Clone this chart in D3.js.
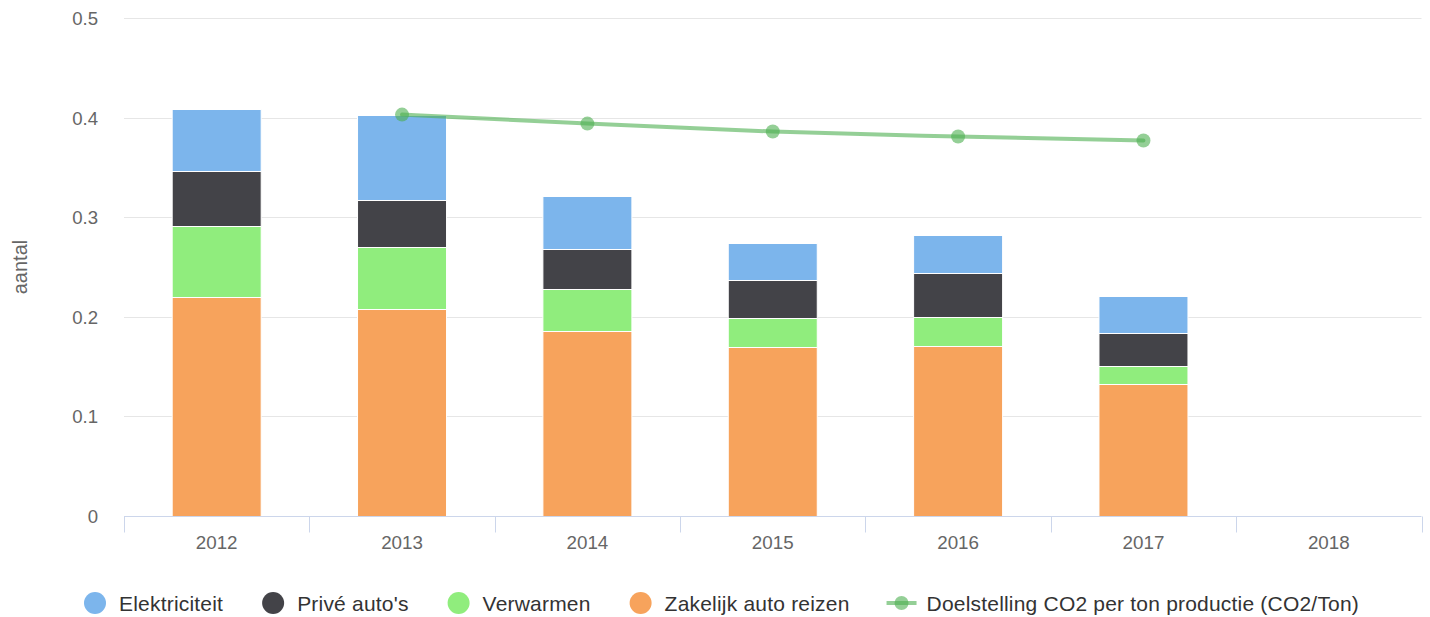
<!DOCTYPE html>
<html>
<head>
<meta charset="utf-8">
<script src="https://cdn.jsdelivr.net/npm/d3@7"></script>
<style>
  html, body { margin: 0; padding: 0; background: #fff; }
  svg { display: block; font-family: "Liberation Sans", Arial, Helvetica, sans-serif; }
</style>
</head>
<body>
<svg id="chart" width="1430" height="617"></svg>
<script>
// ---- data ----
const categories = ["2012", "2013", "2014", "2015", "2016", "2017", "2018"];
const elektriciteit = [0.063, 0.086, 0.053, 0.037, 0.039, 0.037, null];
const priveAutos    = [0.055, 0.047, 0.040, 0.038, 0.0435, 0.033, null];
const verwarmen     = [0.071, 0.062, 0.042, 0.029, 0.029, 0.018, null];
const zakelijk      = [0.220, 0.208, 0.186, 0.170, 0.171, 0.133, null];
const doelstelling  = [null, 0.403, 0.394, 0.386, 0.381, 0.377, null];
const yTicks = [0, 0.1, 0.2, 0.3, 0.4, 0.5];

const seriesNames = ["Elektriciteit", "Privé auto's", "Verwarmen", "Zakelijk auto reizen"];
const seriesValues = [elektriciteit, priveAutos, verwarmen, zakelijk];
const seriesColors = ["#7cb5ec", "#434348", "#90ed7d", "#f7a35c"];
const lineName = "Doelstelling CO2 per ton productie (CO2/Ton)";
const lineColor = "rgba(76,175,80,0.6)";

// ---- layout ----
const svg = d3.select("#chart");
const plot = { left: 124, right: 1421.5, top: 18, bottom: 516 };

const x = d3.scaleBand().domain(categories).range([plot.left, plot.right]).paddingInner(0).paddingOuter(0);
const y = d3.scaleLinear().domain([0, 0.5]).range([plot.bottom, plot.top]);
const barWidth = 89;

// grid lines
svg.append("g").selectAll("line").data(yTicks.filter(d => d > 0)).join("line")
  .attr("x1", plot.left).attr("x2", plot.right)
  .attr("y1", d => Math.round(y(d)) + 0.5).attr("y2", d => Math.round(y(d)) + 0.5)
  .attr("stroke", "#e6e6e6").attr("stroke-width", 1);

// y labels
svg.append("g").selectAll("text").data(yTicks).join("text")
  .attr("x", 98).attr("y", d => y(d) + 7)
  .attr("text-anchor", "end").attr("fill", "#666").attr("font-size", "18.6px")
  .text(d => d3.format("")(d));

// y title
svg.append("text")
  .attr("transform", "translate(27,267) rotate(-90)")
  .attr("text-anchor", "middle").attr("fill", "#666").attr("font-size", "20px")
  .text("aantal");

// stacked bars: bottom = last series
const stackKeys = seriesNames.slice().reverse();
const rows = categories.map((c, i) => {
  const r = { cat: c };
  seriesNames.forEach((n, k) => { r[n] = seriesValues[k][i] || 0; });
  return r;
});
const stack = d3.stack().keys(stackKeys)(rows);
const colorOf = n => seriesColors[seriesNames.indexOf(n)];

svg.append("g").selectAll("g").data(stack).join("g")
  .attr("fill", d => colorOf(d.key))
  .selectAll("rect").data(d => d.filter(p => p[1] - p[0] > 0)).join("rect")
  .attr("x", d => x(d.data.cat) + x.bandwidth() / 2 - barWidth / 2)
  .attr("width", barWidth)
  .attr("y", d => Math.round(y(d[1])) + 0.5)
  .attr("height", d => Math.round(y(d[0])) - Math.round(y(d[1])))
  .attr("stroke", "#fff").attr("stroke-width", 1);

// x axis
const axisY = plot.bottom + 0.5;
const xa = svg.append("g");
xa.append("line").attr("x1", plot.left).attr("x2", plot.right)
  .attr("y1", axisY).attr("y2", axisY).attr("stroke", "#ccd6eb").attr("stroke-width", 1);
const tickPos = categories.map(c => x(c)).concat([plot.right]);
xa.selectAll("line.tick").data(tickPos).join("line").attr("class", "tick")
  .attr("x1", d => Math.round(d) + 0.5).attr("x2", d => Math.round(d) + 0.5)
  .attr("y1", axisY).attr("y2", axisY + 16)
  .attr("stroke", "#ccd6eb").attr("stroke-width", 1);
xa.selectAll("text").data(categories).join("text")
  .attr("x", d => x(d) + x.bandwidth() / 2).attr("y", 549)
  .attr("text-anchor", "middle").attr("fill", "#666").attr("font-size", "18.8px")
  .text(d => d);

// target line (spline)
const linePts = categories.map((c, i) => ({ cat: c, v: doelstelling[i] })).filter(d => d.v != null);
const lineGen = d3.line()
  .x(d => x(d.cat) + x.bandwidth() / 2)
  .y(d => y(d.v))
  .curve(d3.curveMonotoneX);
svg.append("path").datum(linePts)
  .attr("d", lineGen).attr("fill", "none")
  .attr("stroke", lineColor).attr("stroke-width", 4).attr("stroke-linecap", "round");
svg.append("g").selectAll("circle").data(linePts).join("circle")
  .attr("cx", d => x(d.cat) + x.bandwidth() / 2).attr("cy", d => y(d.v))
  .attr("r", 7).attr("fill", lineColor);

// legend
const legY = 603;
const lg = svg.append("g");
let cx = 84;
const gap = 39;
const legFont = "21px";
const legSpacing = "0.2px";
seriesNames.forEach((n, k) => {
  lg.append("circle").attr("cx", cx + 11).attr("cy", legY).attr("r", 11).attr("fill", seriesColors[k]);
  const t = lg.append("text").attr("x", cx + 35).attr("y", legY + 7.5)
    .attr("fill", "#333").attr("font-size", legFont).attr("letter-spacing", legSpacing).text(n);
  cx = cx + 35 + t.node().getComputedTextLength() + gap;
});
// line legend
lg.append("line").attr("x1", cx - 2).attr("x2", cx + 28).attr("y1", legY).attr("y2", legY)
  .attr("stroke", lineColor).attr("stroke-width", 4);
lg.append("circle").attr("cx", cx + 13).attr("cy", legY).attr("r", 7).attr("fill", lineColor);
lg.append("text").attr("x", cx + 38).attr("y", legY + 7.5)
  .attr("fill", "#333").attr("font-size", legFont).attr("letter-spacing", legSpacing).text(lineName);
</script>
</body>
</html>
